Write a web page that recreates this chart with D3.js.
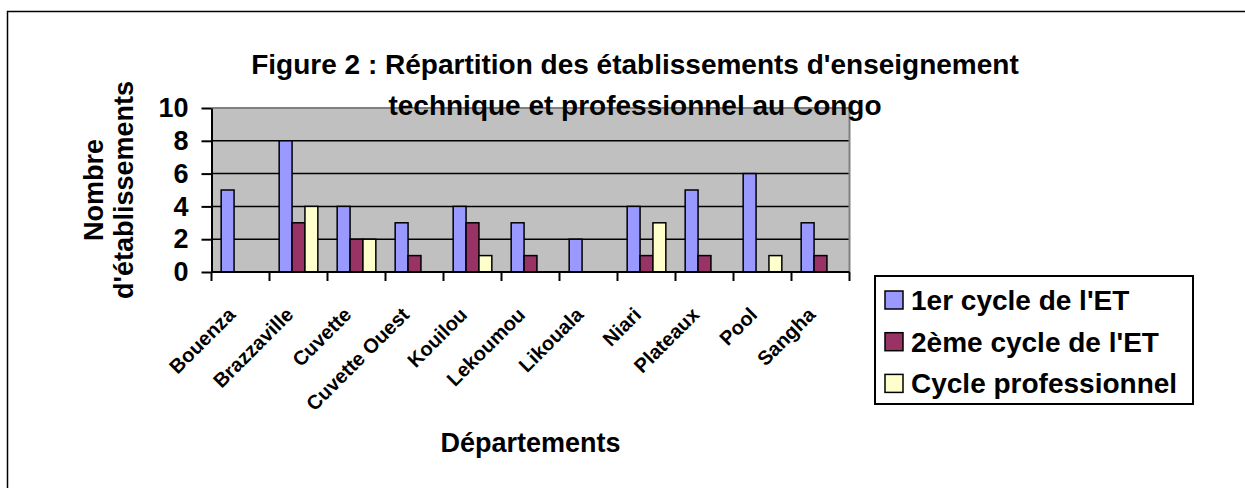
<!DOCTYPE html>
<html>
<head>
<meta charset="utf-8">
<script src="https://cdn.jsdelivr.net/npm/d3@7"></script>
<style>
  body { margin: 0; background: #fff; }
  text { font-family: "Liberation Sans", Arial, sans-serif; font-weight: bold; fill: #000; }
</style>
</head>
<body>
<div id="container"></div>
<script>
// departements
let categories = ["Bouenza", "Brazzaville", "Cuvette", "Cuvette Ouest", "Kouilou", "Lekoumou",
                  "Likouala", "Niari", "Plateaux", "Pool", "Sangha"]

let seriesNames = ["1er cycle de l'ET", "2ème cycle de l'ET", "Cycle professionnel"]
let premierCycle = [5, 8, 4, 3, 4, 3, 2, 4, 5, 6, 3]
let deuxiemeCycle = [0, 3, 2, 1, 3, 1, 0, 1, 1, 0, 1]
let cyclePro = [0, 4, 2, 0, 1, 0, 0, 3, 0, 1, 0]
let yTicks = [0, 2, 4, 6, 8, 10]

let colors = ["#9999ff", "#993366", "#ffffcc"]
let allSeries = [premierCycle, deuxiemeCycle, cyclePro]

let width = 1245
let height = 488
let plot = {left: 211.5, right: 849.5, top: 108, bottom: 272}

let svg = d3.select("#container")
    .append("svg")
    .attr("width", width)
    .attr("height", height)

// outer frame (right and bottom edges fall off the picture)
svg.append("path")
    .attr("d", `M7.5,${height} V11.5 H${width}`)
    .attr("fill", "none")
    .attr("stroke", "#000")
    .attr("stroke-width", 1.5)

let x0 = d3.scaleBand()
    .domain(categories)
    .range([plot.left, plot.right])

let bw = x0.bandwidth()
let x1 = d3.scaleBand()
    .domain(d3.range(seriesNames.length))
    .range([bw / 6, bw * 5 / 6])

let y = d3.scaleLinear()
    .domain([0, 10])
    .range([plot.bottom, plot.top])

// plot background
svg.append("rect")
    .attr("x", plot.left)
    .attr("y", plot.top)
    .attr("width", plot.right - plot.left)
    .attr("height", plot.bottom - plot.top)
    .attr("fill", "#c0c0c0")

// grid
svg.append("g")
    .selectAll("line")
    .data(yTicks.filter(d => d > 0 && d < 10))
    .join("line")
        .attr("x1", plot.left)
        .attr("x2", plot.right)
        .attr("y1", d => y(d))
        .attr("y2", d => y(d))
        .attr("stroke", "#000")
        .attr("stroke-width", 1.5)

// gray top and right border
svg.append("path")
    .attr("d", `M${plot.left},${plot.top} H${plot.right} V${plot.bottom}`)
    .attr("fill", "none")
    .attr("stroke", "#808080")
    .attr("stroke-width", 2)

// bars
let barData = []
categories.forEach((c, i) => {
    allSeries.forEach((s, j) => {
        if (s[i] > 0) barData.push({cat: c, series: j, value: s[i]})
    })
})

svg.append("g")
    .selectAll("rect")
    .data(barData)
    .join("rect")
        .attr("x", d => x0(d.cat) + x1(d.series))
        .attr("y", d => y(d.value))
        .attr("width", x1.bandwidth())
        .attr("height", d => y(0) - y(d.value))
        .attr("fill", d => colors[d.series])
        .attr("stroke", "#000")
        .attr("stroke-width", 1.5)

// y axis
let yAxis = svg.append("g")
    .attr("transform", `translate(${plot.left},0)`)
    .call(d3.axisLeft(y).tickValues(yTicks).tickSize(10).tickPadding(13).tickSizeOuter(0))
yAxis.select(".domain").attr("stroke-width", 2)
yAxis.selectAll(".tick line").attr("stroke-width", 2)
yAxis.selectAll(".tick text")
    .attr("font-size", 27)
    .attr("font-family", "Liberation Sans, Arial, sans-serif")
    .attr("font-weight", "bold")

// x axis: ticks between categories
let xAxis = svg.append("g")
    .attr("transform", `translate(0,${plot.bottom})`)
xAxis.append("line")
    .attr("x1", plot.left)
    .attr("x2", plot.right)
    .attr("stroke", "#000")
    .attr("stroke-width", 2)
xAxis.selectAll(".sep")
    .data(categories.concat(["end"]))
    .join("line")
        .attr("class", "sep")
        .attr("x1", (d, i) => i < categories.length ? x0(d) : plot.right)
        .attr("x2", (d, i) => i < categories.length ? x0(d) : plot.right)
        .attr("y1", 0)
        .attr("y2", 9)
        .attr("stroke", "#000")
        .attr("stroke-width", 2)

svg.append("g")
    .selectAll("text")
    .data(categories)
    .join("text")
        .attr("transform", d => `translate(${x0(d) + bw / 2 - 4},316) rotate(-45)`)
        .attr("text-anchor", "end")
        .attr("font-size", 20)
        .text(d => d)

// titles
let title = svg.append("text")
    .attr("text-anchor", "middle")
    .attr("font-size", 28)
title.append("tspan").attr("x", 635).attr("y", 74)
    .text("Figure 2 : Répartition des établissements d'enseignement")
title.append("tspan").attr("x", 635).attr("y", 115)
    .text("technique et professionnel au Congo")

svg.append("text")
    .attr("transform", "translate(103,190) rotate(-90)")
    .attr("text-anchor", "middle")
    .attr("font-size", 27)
    .text("Nombre")
svg.append("text")
    .attr("transform", "translate(133,190) rotate(-90)")
    .attr("text-anchor", "middle")
    .attr("font-size", 27)
    .text("d'établissements")

svg.append("text")
    .attr("x", (plot.left + plot.right) / 2)
    .attr("y", 452)
    .attr("text-anchor", "middle")
    .attr("font-size", 27)
    .text("Départements")

// legend
let legend = svg.append("g")
legend.append("rect")
    .attr("x", 875)
    .attr("y", 276)
    .attr("width", 318)
    .attr("height", 128)
    .attr("fill", "#fff")
    .attr("stroke", "#000")
    .attr("stroke-width", 2)

let items = legend.selectAll(".item")
    .data(seriesNames)
    .join("g")
        .attr("class", "item")
        .attr("transform", (d, i) => `translate(885,${300 + i * 41.7})`)
items.append("rect")
    .attr("x", 0)
    .attr("y", -9)
    .attr("width", 18)
    .attr("height", 18)
    .attr("fill", (d, i) => colors[i])
    .attr("stroke", "#000")
    .attr("stroke-width", 1.5)
items.append("text")
    .attr("x", 26)
    .attr("y", 10)
    .attr("font-size", 28)
    .text(d => d)
</script>
</body>
</html>
